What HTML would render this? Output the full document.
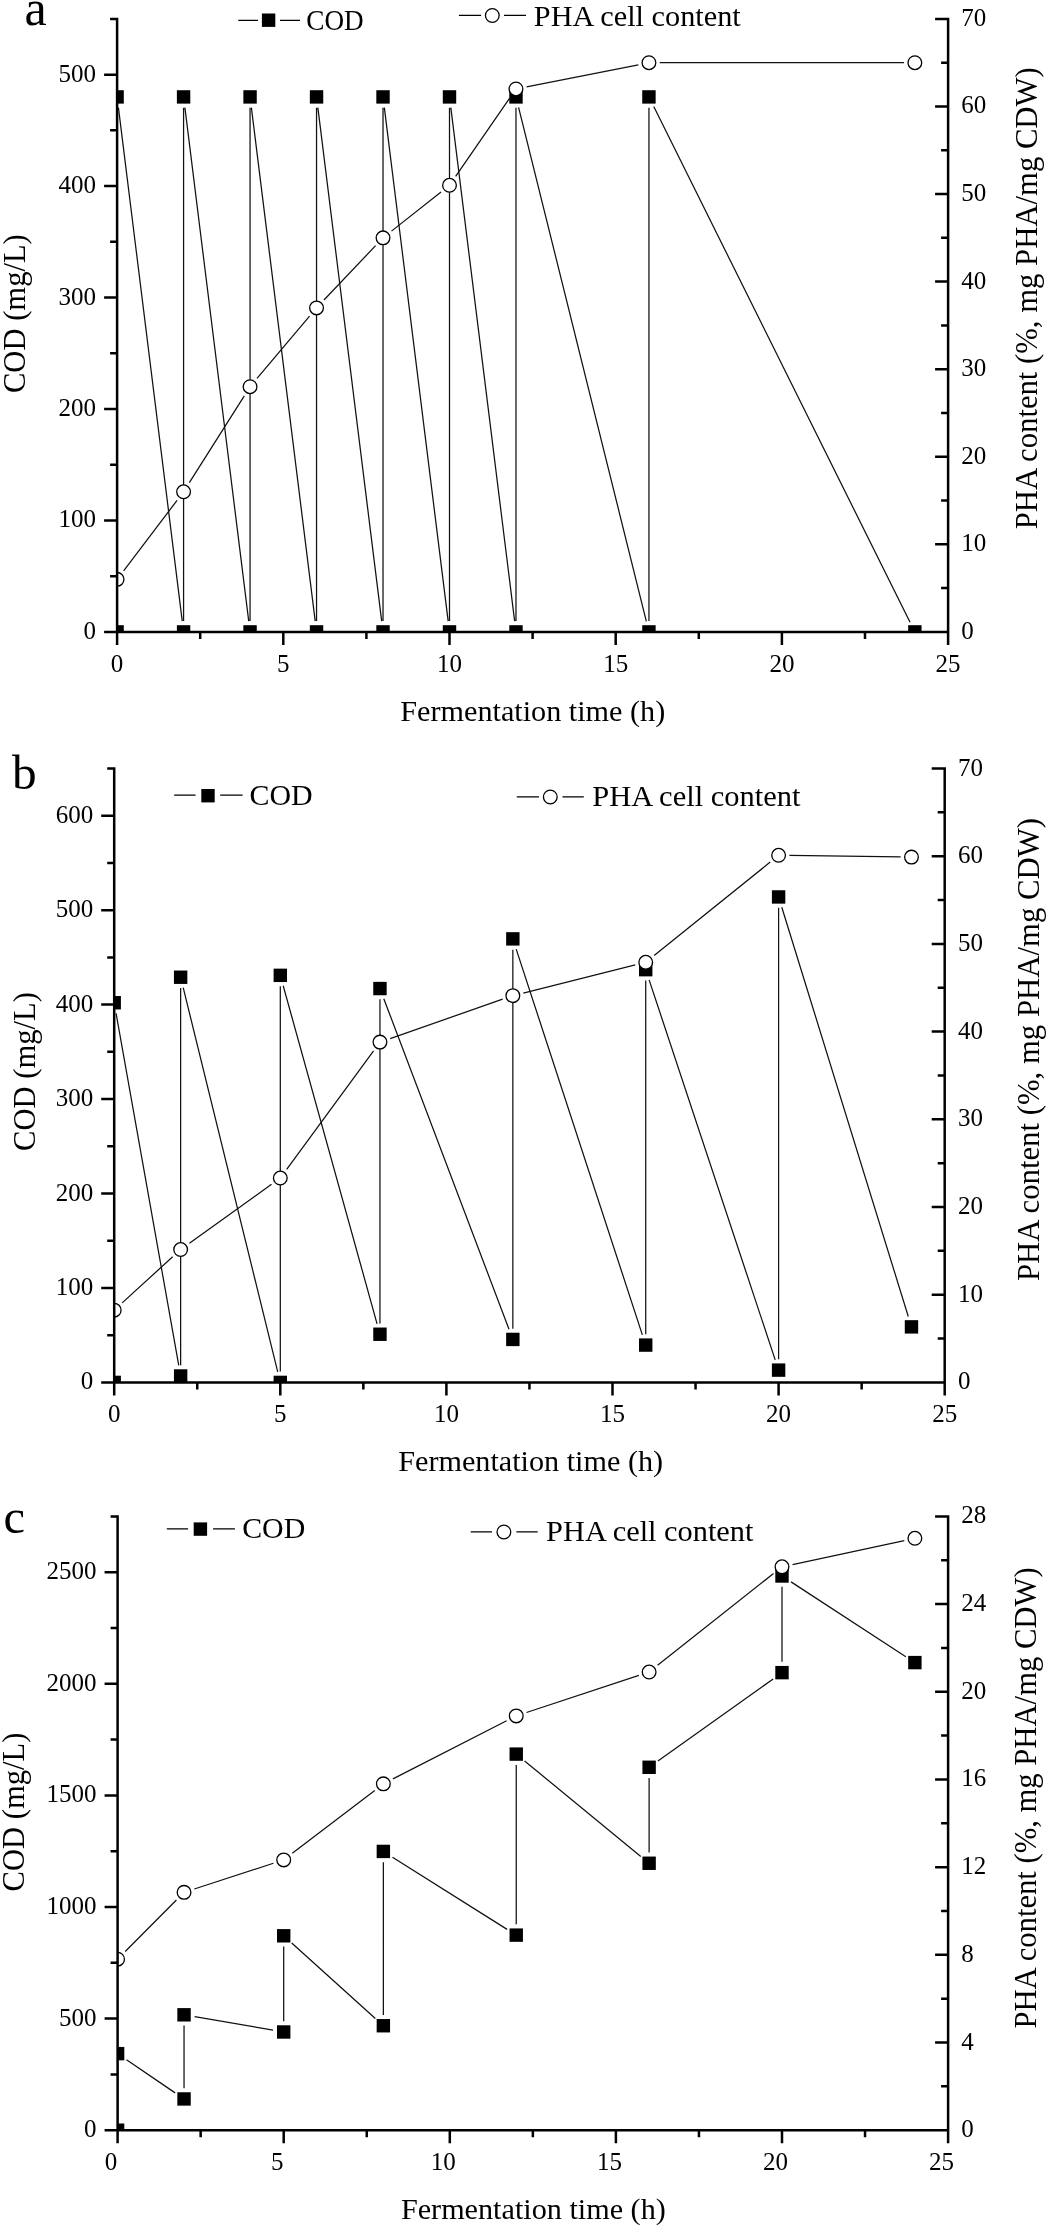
<!DOCTYPE html>
<html><head><meta charset="utf-8"><title>Figure</title><style>
html,body{margin:0;padding:0;background:#fff;}
svg{display:block;will-change:transform;}
text{font-family:"Liberation Serif", serif;fill:#000;}
</style></head><body>
<svg width="1050" height="2226" viewBox="0 0 1050 2226">
<defs><clipPath id="ca"><rect x="117.1" y="18.9" width="831" height="613"/></clipPath><clipPath id="cb"><rect x="114.2" y="768.5" width="830.5" height="613.9"/></clipPath><clipPath id="cc"><rect x="117.6" y="1516.4" width="830.5" height="613.8"/></clipPath></defs>
<rect width="1050" height="2226" fill="#fff"/>
<g clip-path="url(#ca)">
<path d="M117.1 621.1L117.1 107.72M118.43 107.64L182.25 621.18M183.58 621.1L183.58 107.72M184.91 107.64L248.73 621.18M250.06 621.1L250.06 107.72M251.39 107.64L315.21 621.18M316.54 621.1L316.54 107.72M317.87 107.64L381.69 621.18M383.02 621.1L383.02 107.72M384.35 107.64L448.17 621.18M449.5 621.1L449.5 107.72M450.83 107.64L514.65 621.18M515.98 621.1L515.98 107.72M518.58 107.4L646.34 621.42M648.94 621.1L648.94 107.72M653.75 106.59L910.05 622.23" stroke="#111" stroke-width="1.25" fill="none"/>
<rect x="110.4" y="625.2" width="13.4" height="13.4" fill="#000"/>
<rect x="110.4" y="90.22" width="13.4" height="13.4" fill="#000"/>
<rect x="176.88" y="625.2" width="13.4" height="13.4" fill="#000"/>
<rect x="176.88" y="90.22" width="13.4" height="13.4" fill="#000"/>
<rect x="243.36" y="625.2" width="13.4" height="13.4" fill="#000"/>
<rect x="243.36" y="90.22" width="13.4" height="13.4" fill="#000"/>
<rect x="309.84" y="625.2" width="13.4" height="13.4" fill="#000"/>
<rect x="309.84" y="90.22" width="13.4" height="13.4" fill="#000"/>
<rect x="376.32" y="625.2" width="13.4" height="13.4" fill="#000"/>
<rect x="376.32" y="90.22" width="13.4" height="13.4" fill="#000"/>
<rect x="442.8" y="625.2" width="13.4" height="13.4" fill="#000"/>
<rect x="442.8" y="90.22" width="13.4" height="13.4" fill="#000"/>
<rect x="509.28" y="625.2" width="13.4" height="13.4" fill="#000"/>
<rect x="509.28" y="90.22" width="13.4" height="13.4" fill="#000"/>
<rect x="642.24" y="625.2" width="13.4" height="13.4" fill="#000"/>
<rect x="642.24" y="90.22" width="13.4" height="13.4" fill="#000"/>
<rect x="908.16" y="625.2" width="13.4" height="13.4" fill="#000"/>
<path d="M123.63 570.76L177.05 500.39M189.35 482.66L244.29 395.83M257.02 378.44L309.58 316.14M323.97 300.05L375.59 245.66M391.49 231.13L441.03 191.98M455.63 176.4L509.85 97.85M526.58 86.86L638.34 64.78M659.74 62.69L904.06 62.69" stroke="#111" stroke-width="1.25" fill="none"/>
<circle cx="117.1" cy="579.36" r="6.85" fill="#fff" stroke="#000" stroke-width="1.3"/>
<circle cx="183.58" cy="491.79" r="6.85" fill="#fff" stroke="#000" stroke-width="1.3"/>
<circle cx="250.06" cy="386.7" r="6.85" fill="#fff" stroke="#000" stroke-width="1.3"/>
<circle cx="316.54" cy="307.89" r="6.85" fill="#fff" stroke="#000" stroke-width="1.3"/>
<circle cx="383.02" cy="237.83" r="6.85" fill="#fff" stroke="#000" stroke-width="1.3"/>
<circle cx="449.5" cy="185.29" r="6.85" fill="#fff" stroke="#000" stroke-width="1.3"/>
<circle cx="515.98" cy="88.96" r="6.85" fill="#fff" stroke="#000" stroke-width="1.3"/>
<circle cx="648.94" cy="62.69" r="6.85" fill="#fff" stroke="#000" stroke-width="1.3"/>
<circle cx="914.86" cy="62.69" r="6.85" fill="#fff" stroke="#000" stroke-width="1.3"/>
</g>
<path d="M117.1 17.65V631.9M948.1 17.65V631.9M104.1 631.9H949.35M104.1 631.9H117.1M110.1 576.17H117.1M104.1 520.45H117.1M110.1 464.72H117.1M104.1 408.99H117.1M110.1 353.26H117.1M104.1 297.54H117.1M110.1 241.81H117.1M104.1 186.08H117.1M110.1 130.35H117.1M104.1 74.63H117.1M110.1 18.9H117.1M935.1 631.9H948.1M941.1 588.11H948.1M935.1 544.33H948.1M941.1 500.54H948.1M935.1 456.76H948.1M941.1 412.97H948.1M935.1 369.19H948.1M941.1 325.4H948.1M935.1 281.61H948.1M941.1 237.83H948.1M935.1 194.04H948.1M941.1 150.26H948.1M935.1 106.47H948.1M941.1 62.69H948.1M935.1 18.9H948.1M117.1 631.9V644.9M200.2 631.9V638.9M283.3 631.9V644.9M366.4 631.9V638.9M449.5 631.9V644.9M532.6 631.9V638.9M615.7 631.9V644.9M698.8 631.9V638.9M781.9 631.9V644.9M865 631.9V638.9M948.1 631.9V644.9" stroke="#000" stroke-width="2.5" fill="none" stroke-linecap="butt"/>
<g font-size="25"><text x="96.1" y="638.9" text-anchor="end">0</text><text x="96.1" y="527.45" text-anchor="end">100</text><text x="96.1" y="415.99" text-anchor="end">200</text><text x="96.1" y="304.54" text-anchor="end">300</text><text x="96.1" y="193.08" text-anchor="end">400</text><text x="96.1" y="81.63" text-anchor="end">500</text><text x="961.3" y="638.9">0</text><text x="961.3" y="551.33">10</text><text x="961.3" y="463.76">20</text><text x="961.3" y="376.19">30</text><text x="961.3" y="288.61">40</text><text x="961.3" y="201.04">50</text><text x="961.3" y="113.47">60</text><text x="961.3" y="25.9">70</text><text x="117.1" y="671.6" text-anchor="middle">0</text><text x="283.3" y="671.6" text-anchor="middle">5</text><text x="449.5" y="671.6" text-anchor="middle">10</text><text x="615.7" y="671.6" text-anchor="middle">15</text><text x="781.9" y="671.6" text-anchor="middle">20</text><text x="948.1" y="671.6" text-anchor="middle">25</text></g>
<text x="400.3" y="721.2" font-size="30.2">Fermentation time (h)</text>
<text transform="translate(24.9 393.1) rotate(-90)" font-size="30.6">COD (mg/L)</text>
<text transform="translate(1037.4 529.3) rotate(-90)" font-size="30.6" textLength="462.03" lengthAdjust="spacingAndGlyphs">PHA content (%, mg PHA/mg CDW)</text>
<text x="24.5" y="25" font-size="50">a</text>
<path d="M238.3 20.4H258M280 20.4H300" stroke="#000" stroke-width="1.25"/>
<rect x="261.9" y="13.5" width="13.4" height="13.4"/>
<text x="306.3" y="29.5" font-size="29.5" textLength="57.4" lengthAdjust="spacingAndGlyphs">COD</text>
<path d="M458.9 15.3H481.1M504 15.3H526" stroke="#000" stroke-width="1.25"/>
<circle cx="492.3" cy="15.5" r="6.85" fill="#fff" stroke="#000" stroke-width="1.3"/>
<text x="533.8" y="25.9" font-size="29.5" textLength="206.94" lengthAdjust="spacingAndGlyphs">PHA cell content</text>
<g clip-path="url(#cb)">
<path d="M114.2 1371.6L114.2 1013.53M116.09 1013.36L178.75 1365.34M180.64 1365.18L180.64 988.03M183.22 987.71L277.72 1371.91M280.3 1371.6L280.3 986.14M283.19 985.74L377.07 1323.83M379.96 1323.43L379.96 999.36M383.79 998.66L509.01 1329.33M512.84 1328.63L512.84 949.68M516.2 949.15L642.36 1334.83M645.72 1334.29L645.72 980.47M649.12 979.92L775.2 1359.87M778.6 1359.32L778.6 907.75M781.79 907.27L908.29 1316.55" stroke="#111" stroke-width="1.25" fill="none"/>
<rect x="107.5" y="1375.7" width="13.4" height="13.4" fill="#000"/>
<rect x="107.5" y="996.03" width="13.4" height="13.4" fill="#000"/>
<rect x="173.94" y="1369.28" width="13.4" height="13.4" fill="#000"/>
<rect x="173.94" y="970.53" width="13.4" height="13.4" fill="#000"/>
<rect x="273.6" y="1375.7" width="13.4" height="13.4" fill="#000"/>
<rect x="273.6" y="968.64" width="13.4" height="13.4" fill="#000"/>
<rect x="373.26" y="1327.53" width="13.4" height="13.4" fill="#000"/>
<rect x="373.26" y="981.86" width="13.4" height="13.4" fill="#000"/>
<rect x="506.14" y="1332.73" width="13.4" height="13.4" fill="#000"/>
<rect x="506.14" y="932.18" width="13.4" height="13.4" fill="#000"/>
<rect x="639.02" y="1338.39" width="13.4" height="13.4" fill="#000"/>
<rect x="639.02" y="962.97" width="13.4" height="13.4" fill="#000"/>
<rect x="771.9" y="1363.42" width="13.4" height="13.4" fill="#000"/>
<rect x="771.9" y="890.25" width="13.4" height="13.4" fill="#000"/>
<rect x="904.78" y="1320.17" width="13.4" height="13.4" fill="#000"/>
<path d="M122.18 1302.86L172.66 1256.81M189.42 1243.24L271.52 1184.35M286.69 1169.35L373.57 1050.83M390.15 1038.56L502.65 999.21M523.32 993.02L635.24 964.94M654.13 955.54L770.19 862.1M789.4 855.47L900.68 856.93" stroke="#111" stroke-width="1.25" fill="none"/>
<circle cx="114.2" cy="1310.14" r="6.85" fill="#fff" stroke="#000" stroke-width="1.3"/>
<circle cx="180.64" cy="1249.53" r="6.85" fill="#fff" stroke="#000" stroke-width="1.3"/>
<circle cx="280.3" cy="1178.06" r="6.85" fill="#fff" stroke="#000" stroke-width="1.3"/>
<circle cx="379.96" cy="1042.12" r="6.85" fill="#fff" stroke="#000" stroke-width="1.3"/>
<circle cx="512.84" cy="995.64" r="6.85" fill="#fff" stroke="#000" stroke-width="1.3"/>
<circle cx="645.72" cy="962.32" r="6.85" fill="#fff" stroke="#000" stroke-width="1.3"/>
<circle cx="778.6" cy="855.32" r="6.85" fill="#fff" stroke="#000" stroke-width="1.3"/>
<circle cx="911.48" cy="857.08" r="6.85" fill="#fff" stroke="#000" stroke-width="1.3"/>
</g>
<path d="M114.2 767.25V1382.4M944.7 767.25V1382.4M101.2 1382.4H945.95M101.2 1382.4H114.2M107.2 1335.18H114.2M101.2 1287.95H114.2M107.2 1240.73H114.2M101.2 1193.51H114.2M107.2 1146.28H114.2M101.2 1099.06H114.2M107.2 1051.84H114.2M101.2 1004.62H114.2M107.2 957.39H114.2M101.2 910.17H114.2M107.2 862.95H114.2M101.2 815.72H114.2M107.2 768.5H114.2M931.7 1382.4H944.7M937.7 1338.55H944.7M931.7 1294.7H944.7M937.7 1250.85H944.7M931.7 1207H944.7M937.7 1163.15H944.7M931.7 1119.3H944.7M937.7 1075.45H944.7M931.7 1031.6H944.7M937.7 987.75H944.7M931.7 943.9H944.7M937.7 900.05H944.7M931.7 856.2H944.7M937.7 812.35H944.7M931.7 768.5H944.7M114.2 1382.4V1395.4M197.25 1382.4V1389.4M280.3 1382.4V1395.4M363.35 1382.4V1389.4M446.4 1382.4V1395.4M529.45 1382.4V1389.4M612.5 1382.4V1395.4M695.55 1382.4V1389.4M778.6 1382.4V1395.4M861.65 1382.4V1389.4M944.7 1382.4V1395.4" stroke="#000" stroke-width="2.5" fill="none" stroke-linecap="butt"/>
<g font-size="25"><text x="93.2" y="1389.4" text-anchor="end">0</text><text x="93.2" y="1294.95" text-anchor="end">100</text><text x="93.2" y="1200.51" text-anchor="end">200</text><text x="93.2" y="1106.06" text-anchor="end">300</text><text x="93.2" y="1011.62" text-anchor="end">400</text><text x="93.2" y="917.17" text-anchor="end">500</text><text x="93.2" y="822.72" text-anchor="end">600</text><text x="957.9" y="1389.4">0</text><text x="957.9" y="1301.7">10</text><text x="957.9" y="1214">20</text><text x="957.9" y="1126.3">30</text><text x="957.9" y="1038.6">40</text><text x="957.9" y="950.9">50</text><text x="957.9" y="863.2">60</text><text x="957.9" y="775.5">70</text><text x="114.2" y="1422.1" text-anchor="middle">0</text><text x="280.3" y="1422.1" text-anchor="middle">5</text><text x="446.4" y="1422.1" text-anchor="middle">10</text><text x="612.5" y="1422.1" text-anchor="middle">15</text><text x="778.6" y="1422.1" text-anchor="middle">20</text><text x="944.7" y="1422.1" text-anchor="middle">25</text></g>
<text x="398.2" y="1471.4" font-size="30.2">Fermentation time (h)</text>
<text transform="translate(34.6 1151) rotate(-90)" font-size="30.6">COD (mg/L)</text>
<text transform="translate(1039.4 1281) rotate(-90)" font-size="30.6" textLength="462.93" lengthAdjust="spacingAndGlyphs">PHA content (%, mg PHA/mg CDW)</text>
<text x="11.9" y="789" font-size="49.3">b</text>
<path d="M174.2 795.2H195.6M220.2 795.2H242.6" stroke="#000" stroke-width="1.25"/>
<rect x="201.3" y="789" width="13.4" height="13.4"/>
<text x="249.5" y="805" font-size="29.5" textLength="63.12" lengthAdjust="spacingAndGlyphs">COD</text>
<path d="M516.8 796.9H539M562.5 796.9H583.8" stroke="#000" stroke-width="1.25"/>
<circle cx="550.3" cy="797" r="6.85" fill="#fff" stroke="#000" stroke-width="1.3"/>
<text x="592.2" y="806.1" font-size="29.5" textLength="208.25" lengthAdjust="spacingAndGlyphs">PHA cell content</text>
<g clip-path="url(#cc)">
<path d="M117.6 2119.4L117.6 2064.44M126.52 2059.73L175.12 2092.87M184.04 2088.15L184.04 2025.61M194.68 2016.64L273.06 2030.16M283.7 2021.19L283.7 1946.59M291.72 1943.03L375.34 2018.51M383.36 2014.94L383.36 1862.22M392.5 1857.18L507.1 1929.37M516.24 1924.32L516.24 1764.91M524.59 1760.96L640.77 1856.4M649.12 1852.45L649.12 1778.08M657.92 1761.01L773.2 1678.91M782 1661.84L782 1586.79M791.05 1581.89L905.83 1656.7" stroke="#111" stroke-width="1.25" fill="none"/>
<rect x="110.9" y="2123.5" width="13.4" height="13.4" fill="#000"/>
<rect x="110.9" y="2046.94" width="13.4" height="13.4" fill="#000"/>
<rect x="177.34" y="2092.25" width="13.4" height="13.4" fill="#000"/>
<rect x="177.34" y="2008.11" width="13.4" height="13.4" fill="#000"/>
<rect x="277" y="2025.29" width="13.4" height="13.4" fill="#000"/>
<rect x="277" y="1929.09" width="13.4" height="13.4" fill="#000"/>
<rect x="376.66" y="2019.04" width="13.4" height="13.4" fill="#000"/>
<rect x="376.66" y="1844.72" width="13.4" height="13.4" fill="#000"/>
<rect x="509.54" y="1928.42" width="13.4" height="13.4" fill="#000"/>
<rect x="509.54" y="1747.41" width="13.4" height="13.4" fill="#000"/>
<rect x="642.42" y="1856.55" width="13.4" height="13.4" fill="#000"/>
<rect x="642.42" y="1760.58" width="13.4" height="13.4" fill="#000"/>
<rect x="775.3" y="1665.94" width="13.4" height="13.4" fill="#000"/>
<rect x="775.3" y="1569.29" width="13.4" height="13.4" fill="#000"/>
<rect x="908.18" y="1655.9" width="13.4" height="13.4" fill="#000"/>
<path d="M125.21 1951.55L176.43 1900.01M194.31 1889.01L273.43 1863.25M292.29 1853.36L374.77 1790.39M392.98 1778.92L506.62 1720.8M526.5 1712.5L638.86 1675.43M657.59 1665.34L773.53 1573.52M792.56 1564.55L904.32 1540.59" stroke="#111" stroke-width="1.25" fill="none"/>
<circle cx="117.6" cy="1959.21" r="6.85" fill="#fff" stroke="#000" stroke-width="1.3"/>
<circle cx="184.04" cy="1892.35" r="6.85" fill="#fff" stroke="#000" stroke-width="1.3"/>
<circle cx="283.7" cy="1859.91" r="6.85" fill="#fff" stroke="#000" stroke-width="1.3"/>
<circle cx="383.36" cy="1783.84" r="6.85" fill="#fff" stroke="#000" stroke-width="1.3"/>
<circle cx="516.24" cy="1715.88" r="6.85" fill="#fff" stroke="#000" stroke-width="1.3"/>
<circle cx="649.12" cy="1672.04" r="6.85" fill="#fff" stroke="#000" stroke-width="1.3"/>
<circle cx="782" cy="1566.82" r="6.85" fill="#fff" stroke="#000" stroke-width="1.3"/>
<circle cx="914.88" cy="1538.32" r="6.85" fill="#fff" stroke="#000" stroke-width="1.3"/>
</g>
<path d="M117.6 1515.15V2130.2M948.1 1515.15V2130.2M104.6 2130.2H949.35M104.6 2130.2H117.6M110.6 2074.4H117.6M104.6 2018.6H117.6M110.6 1962.8H117.6M104.6 1907H117.6M110.6 1851.2H117.6M104.6 1795.4H117.6M110.6 1739.6H117.6M104.6 1683.8H117.6M110.6 1628H117.6M104.6 1572.2H117.6M110.6 1516.4H117.6M935.1 2130.2H948.1M941.1 2086.36H948.1M935.1 2042.51H948.1M941.1 1998.67H948.1M935.1 1954.83H948.1M941.1 1910.99H948.1M935.1 1867.14H948.1M941.1 1823.3H948.1M935.1 1779.46H948.1M941.1 1735.61H948.1M935.1 1691.77H948.1M941.1 1647.93H948.1M935.1 1604.09H948.1M941.1 1560.24H948.1M935.1 1516.4H948.1M117.6 2130.2V2143.2M200.65 2130.2V2137.2M283.7 2130.2V2143.2M366.75 2130.2V2137.2M449.8 2130.2V2143.2M532.85 2130.2V2137.2M615.9 2130.2V2143.2M698.95 2130.2V2137.2M782 2130.2V2143.2M865.05 2130.2V2137.2M948.1 2130.2V2143.2" stroke="#000" stroke-width="2.5" fill="none" stroke-linecap="butt"/>
<g font-size="25"><text x="96.6" y="2137.2" text-anchor="end">0</text><text x="96.6" y="2025.6" text-anchor="end">500</text><text x="96.6" y="1914" text-anchor="end">1000</text><text x="96.6" y="1802.4" text-anchor="end">1500</text><text x="96.6" y="1690.8" text-anchor="end">2000</text><text x="96.6" y="1579.2" text-anchor="end">2500</text><text x="961.3" y="2137.2">0</text><text x="961.3" y="2049.51">4</text><text x="961.3" y="1961.83">8</text><text x="961.3" y="1874.14">12</text><text x="961.3" y="1786.46">16</text><text x="961.3" y="1698.77">20</text><text x="961.3" y="1611.09">24</text><text x="961.3" y="1523.4">28</text><text x="111.1" y="2169.9" text-anchor="middle">0</text><text x="277.2" y="2169.9" text-anchor="middle">5</text><text x="443.3" y="2169.9" text-anchor="middle">10</text><text x="609.4" y="2169.9" text-anchor="middle">15</text><text x="775.5" y="2169.9" text-anchor="middle">20</text><text x="941.6" y="2169.9" text-anchor="middle">25</text></g>
<text x="400.9" y="2219.1" font-size="30.2">Fermentation time (h)</text>
<text transform="translate(24.1 1891.5) rotate(-90)" font-size="30.6">COD (mg/L)</text>
<text transform="translate(1035.5 2028.6) rotate(-90)" font-size="30.6" textLength="461.22" lengthAdjust="spacingAndGlyphs">PHA content (%, mg PHA/mg CDW)</text>
<text x="3.5" y="1533.2" font-size="48.5">c</text>
<path d="M166.8 1528.9H188.1M213.1 1528.9H234.9" stroke="#000" stroke-width="1.25"/>
<rect x="193.7" y="1522.4" width="13.4" height="13.4"/>
<text x="242.2" y="1538.3" font-size="29.5" textLength="63.02" lengthAdjust="spacingAndGlyphs">COD</text>
<path d="M470.7 1531.9H492M516.4 1531.9H537.7" stroke="#000" stroke-width="1.25"/>
<circle cx="503.9" cy="1532" r="6.85" fill="#fff" stroke="#000" stroke-width="1.3"/>
<text x="546.1" y="1541.1" font-size="29.5" textLength="207.34" lengthAdjust="spacingAndGlyphs">PHA cell content</text>
</svg>
</body></html>
